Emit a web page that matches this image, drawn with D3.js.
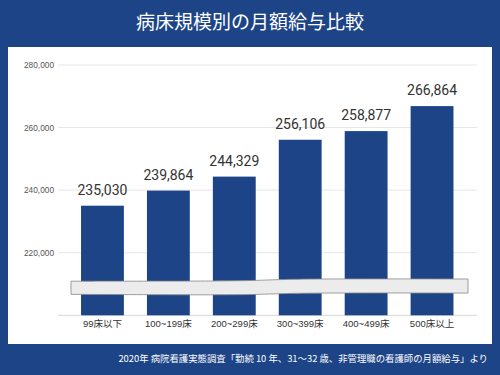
<!DOCTYPE html>
<html>
<head>
<meta charset="utf-8">
<style>
  body { margin: 0; background: #1d4487; }
  svg { display: block; font-family: "Noto Sans CJK JP", Roboto, sans-serif; }
  .axis text { fill: #555; font-size: 8.3px; font-family: "Liberation Sans", Arial, sans-serif; }
  .cat text { fill: #333; font-size: 9.5px; font-family: "Liberation Sans", "Noto Sans CJK JP", sans-serif; }
  .val { fill: #333; font-size: 14px; font-family: Roboto, sans-serif; }
</style>
</head>
<body>
<svg width="500" height="375"></svg>
<script src="https://cdn.jsdelivr.net/npm/d3@7"></script>
<script>
var categories = ["99床以下", "100~199床", "200~299床", "300~399床", "400~499床", "500床以上"];
var salaries = [235030, 239864, 244329, 256106, 258877, 266864];
var yTicks = [220000, 240000, 260000, 280000];
var title = "病床規模別の月額給与比較";
var source = "2020年 病院看護実態調査「勤続 10 年、31～32 歳、非管理職の看護師の月額給与」より";

var svg = d3.select("svg");

// background + white panel
svg.append("rect").attr("width", 500).attr("height", 375).attr("fill", "#1d4487");
svg.append("rect").attr("x", 8).attr("y", 47).attr("width", 484).attr("height", 297).attr("fill", "#fff");

svg.append("text")
  .attr("x", 250).attr("y", 29)
  .attr("text-anchor", "middle")
  .attr("fill", "#fff")
  .style("font-size", "19px")
  .text(title);

svg.append("text")
  .attr("x", 488).attr("y", 362)
  .attr("text-anchor", "end")
  .attr("fill", "#fff")
  .style("font-size", "9.4px")
  .text(source);

var x = d3.scaleBand().domain(categories).range([69.5, 465]).paddingInner(0.35).paddingOuter(0.175);
var y = d3.scaleLinear().domain([200000, 280000]).range([315.3, 65]);

// gridlines
var grid = svg.append("g").attr("class", "grid");
grid.selectAll("line").data([200000].concat(yTicks)).enter().append("line")
  .attr("x1", 58).attr("x2", 477)
  .attr("y1", function(d) { return y(d); })
  .attr("y2", function(d) { return y(d); })
  .attr("stroke", function(d) { return d == 200000 ? "#d6d6d6" : "#e6e6e6"; });

// y axis labels
var gy = svg.append("g").attr("class", "axis").attr("transform", "translate(54,0)")
  .call(d3.axisLeft(y).tickValues(yTicks).tickSize(0).tickPadding(0).tickFormat(d3.format(",")));
gy.select(".domain").remove();

// bars
svg.selectAll(".bar").data(salaries).enter().append("rect")
  .attr("class", "bar")
  .attr("x", function(d, i) { return x(categories[i]); })
  .attr("width", x.bandwidth())
  .attr("y", function(d) { return y(d); })
  .attr("height", function(d) { return y(200000) - y(d); })
  .attr("fill", "#1d4487");

svg.selectAll(".val").data(salaries).enter().append("text")
  .attr("class", "val")
  .attr("x", function(d, i) { return x(categories[i]) + x.bandwidth() / 2; })
  .attr("y", function(d) { return y(d) - 11; })
  .attr("text-anchor", "middle")
  .text(d3.format(","));

// category labels
var gx = svg.append("g").attr("class", "cat").attr("transform", "translate(0," + y(200000) + ")")
  .call(d3.axisBottom(x).tickSize(0).tickPadding(5));
gx.select(".domain").remove();

// axis break band (wavy strip across the bars)
var breakTop = [[71, 210900], [200, 210900], [262, 211100], [290, 211700], [468, 211600]];
var breakBot = [[468, 207100], [290, 207200], [262, 206600], [200, 206500], [71, 206700]];
var edge = d3.line()
  .x(function(d) { return d[0]; })
  .y(function(d) { return y(d[1]); })
  .curve(d3.curveBasis);
var topEdge = edge(breakTop);
var botEdge = edge(breakBot);
svg.append("path")
  .attr("d", topEdge + "L" + botEdge.slice(1) + "Z")
  .attr("fill", "#ececec")
  .attr("stroke", "#888")
  .attr("stroke-width", 0.8);
</script>
</body>
</html>
